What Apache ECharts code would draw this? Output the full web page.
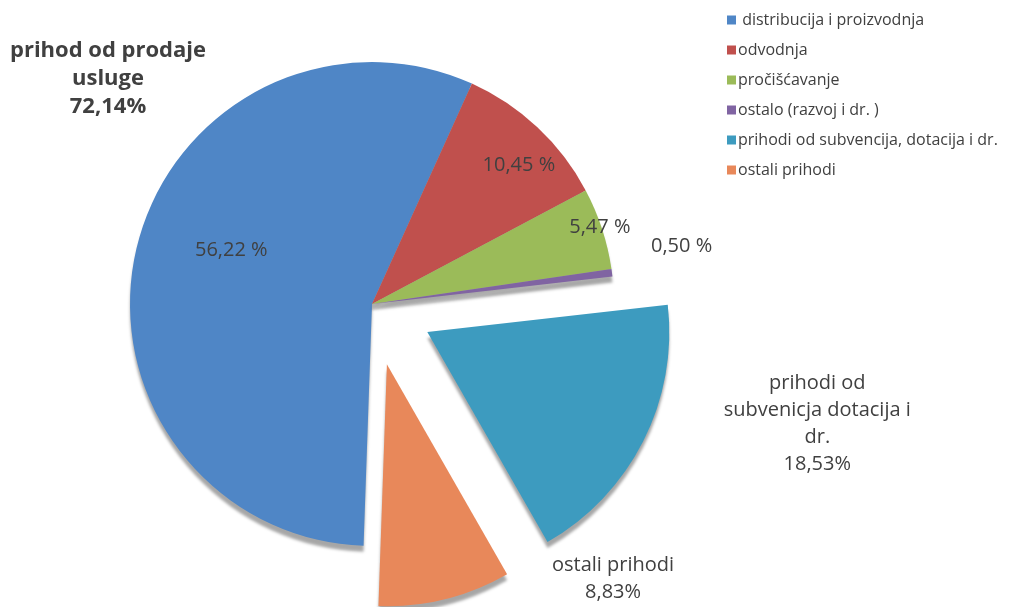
<!DOCTYPE html>
<html>
<head>
<meta charset="utf-8">
<script src="https://cdn.jsdelivr.net/npm/echarts@6/dist/echarts.min.js"></script>
<style>
  html, body { margin: 0; padding: 0; background: #fff; }
  #chart-container { width: 1021px; height: 607px; }
</style>
</head>
<body>
<div id="chart-container"></div>
<script>
// slice names as in legend
const categories = [
  ' distribucija i proizvodnja',
  'odvodnja',
  'pročišćavanje',
  'ostalo (razvoj i dr. )',
  'prihodi od subvencija, dotacija i dr.',
  'ostali prihodi'
]
const shares = [56.22, 10.45, 5.47, 0.50, 18.53, 8.83]
const sliceLabels = [
  '56,22 %',
  '10,45 %',
  '5,47 %',
  '0,50 %',
  'prihodi od\nsubvenicja dotacija i\ndr.\n18,53%',
  'ostali prihodi\n8,83%'
]
const exploded = [false, false, false, false, true, true]
const groupLabel = 'prihod od prodaje\nusluge\n72,14%'

const colors = ['#4f86c6', '#c0504d', '#9bbb59', '#8064a2', '#3d9bbf', '#e8885a']
const font = '"Open Sans", sans-serif'

// nudges for the labels, so they sit where the original has them
const labelShift = [[-20, -25], [62, -48], [110, -38], [22, -26], [64, -19], [93, -24]]

const chart = echarts.init(document.getElementById('chart-container'))

// centre every line of a multi-line label
const centred = txt => txt.split('\n').map(l => '{c|' + l + '}').join('\n')

const data = categories.map((name, i) => {
  const item = { name, value: shares[i], selected: exploded[i] }
  if (i < 3) {
    item.label = { position: 'inside' }
  } else {
    item.label = { position: 'outside' }
    item.labelLine = { show: false, length: 4, length2: 8 }
  }
  return item
})

const option = {
  color: colors,
  animation: false,
  legend: {
    orient: 'vertical',
    left: 722,
    top: 7,
    icon: 'rect',
    itemWidth: 9,
    itemHeight: 9,
    itemGap: 14,
    textStyle: { fontFamily: font, fontSize: 16, color: '#404040', padding: [0, 0, 0, -3] },
    data: categories
  },
  graphic: [{
    type: 'text',
    x: 108,
    y: 37,
    style: {
      text: groupLabel,
      fontFamily: font,
      fontSize: 22,
      fontWeight: 'bold',
      fill: '#404040',
      align: 'center',
      lineHeight: 28
    }
  }],
  series: [{
    type: 'pie',
    center: [372, 304],
    radius: [0, 242],
    startAngle: 268,
    selectedMode: 'multiple',
    selectedOffset: 62,
    emphasis: { disabled: true },
    itemStyle: {
      shadowColor: 'rgba(0,0,0,0.35)',
      shadowBlur: 3,
      shadowOffsetY: 6
    },
    label: {
      formatter: p => centred(sliceLabels[p.dataIndex]),
      fontFamily: font,
      fontSize: 20,
      color: '#404040',
      lineHeight: 27,
      rich: {
        c: { align: 'center', fontFamily: font, fontSize: 20, color: '#404040', lineHeight: 27 }
      }
    },
    labelLayout: p => ({ dx: labelShift[p.dataIndex][0], dy: labelShift[p.dataIndex][1] }),
    data
  }]
}
chart.setOption(option)
</script>
</body>
</html>
